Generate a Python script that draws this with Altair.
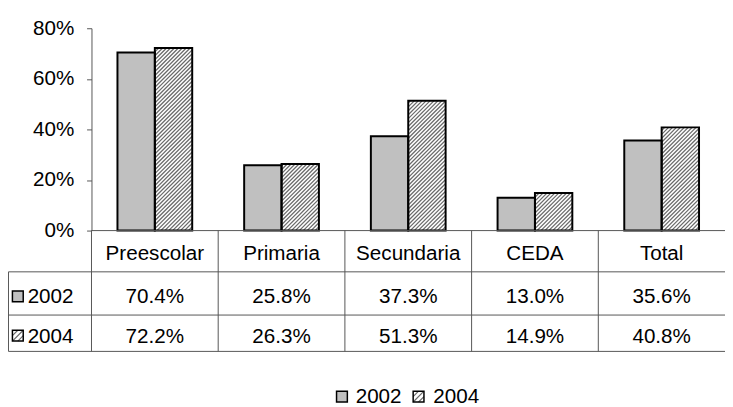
import altair as alt
import pandas as pd

# ---- data ----
categories = ["Preescolar", "Primaria", "Secundaria", "CEDA", "Total"]
years = ["2002", "2004"]
v2002 = [0.704, 0.258, 0.373, 0.130, 0.356]
v2004 = [0.722, 0.263, 0.513, 0.149, 0.408]
y_ticks = [0, 0.2, 0.4, 0.6, 0.8]

# ---- layout constants ----
W, H = 645, 206
PAD_L, PAD_T = 85, 17
TOTAL_H = 399
YMAX = 0.8
CW = W / len(categories)
YPX = H / YMAX
BWF = 0.295
BW = BWF * CW
STEP = 4.0
FONT = "Liberation Sans"
FS = 21
GRID = "#555555"
Y_HDR, Y_R1, Y_R2, Y_LEG = 230, 274, 314, 376
L_ROW1, L_ROW2, L_BOT = 248, 292, 329
X_LEFT = -84.5

rows = []
for i, c in enumerate(categories):
    rows.append(dict(cat=c, idx=i, year="2002", value=v2002[i]))
    rows.append(dict(cat=c, idx=i, year="2004", value=v2004[i]))
df = pd.DataFrame(rows)
cat_df = pd.DataFrame({"cat": categories, "idx": list(range(len(categories)))})
one = pd.DataFrame({"a": [0]})

xs = alt.Scale(domain=[0, len(categories)], nice=False, zero=False)
ys = alt.Scale(domain=[0, YMAX], nice=False)
yaxis = alt.Axis(
    values=y_ticks, format=".0%", grid=False, tickSize=5, labelPadding=13,
    labelFontSize=FS, labelFont=FONT, labelColor="black",
    domainColor=GRID, tickColor=GRID, title=None,
)

base = alt.Chart(df).transform_calculate(
    x0=f"datum.idx + 0.5 - (datum.year == '2002' ? {BWF} : 0)",
    x1=f"datum.idx + 0.5 + (datum.year == '2004' ? {BWF} : 0)",
    zero="0",
)

bars_fill = base.mark_rect(strokeWidth=0).encode(
    x=alt.X("x0:Q", scale=xs, axis=None),
    x2="x1:Q",
    y=alt.Y("value:Q", scale=ys, axis=yaxis, title=None),
    y2="zero:Q",
    color=alt.Color("year:N", scale=alt.Scale(domain=years, range=["#c0c0c0", "#ffffff"]), legend=None),
)

hatch = (
    alt.Chart(df)
    .transform_filter("datum.year == '2004'")
    .transform_calculate(k="sequence(0, 80)")
    .transform_flatten(["k"])
    .transform_calculate(h=f"datum.value * {YPX}", c=f"datum.k * {STEP} - {BW}")
    .transform_calculate(u0="max(0, -datum.c)", u1=f"min({BW}, datum.h - datum.c)")
    .transform_filter("datum.u1 > datum.u0")
    .transform_calculate(
        hx0=f"datum.idx + 0.5 + datum.u0 / {CW}",
        hx1=f"datum.idx + 0.5 + datum.u1 / {CW}",
        hy0=f"(datum.u0 + datum.c) / {YPX}",
        hy1=f"(datum.u1 + datum.c) / {YPX}",
    )
    .mark_rule(color="#6a6a6a", strokeWidth=1.3)
    .encode(
        x=alt.X("hx0:Q", scale=xs, axis=None), x2="hx1:Q",
        y=alt.Y("hy0:Q", scale=ys, axis=yaxis, title=None), y2="hy1:Q",
    )
)

bars_outline = base.mark_rect(fill="white", fillOpacity=0, stroke="black", strokeWidth=2).encode(
    x=alt.X("x0:Q", scale=xs, axis=None),
    x2="x1:Q",
    y=alt.Y("value:Q", scale=ys, axis=yaxis, title=None),
    y2="zero:Q",
)

# ---- table grid ----
def hline(y, x0):
    return alt.Chart(one).mark_rule(color=GRID, strokeWidth=1).encode(
        x=alt.value(x0), x2=alt.value(W), y=alt.value(y)
    )

baseline = hline(H, 0)
hl1 = hline(L_ROW1, X_LEFT)
hl2 = hline(L_ROW2, X_LEFT)
hl3 = hline(L_BOT, X_LEFT)

vlines = alt.Chart(pd.DataFrame({"b": list(range(len(categories)))})).mark_rule(
    color=GRID, strokeWidth=1
).encode(x=alt.X("b:Q", scale=xs, axis=None), y=alt.value(H), y2=alt.value(L_BOT))

vleft = alt.Chart(one).mark_rule(color=GRID, strokeWidth=1).encode(
    x=alt.value(X_LEFT), y=alt.value(L_ROW1), y2=alt.value(L_BOT)
)

# ---- table texts ----
txt = dict(fontSize=FS, font=FONT, color="black")
header = alt.Chart(cat_df).transform_calculate(xc="datum.idx + 0.5").mark_text(**txt).encode(
    x=alt.X("xc:Q", scale=xs, axis=None), y=alt.value(Y_HDR), text="cat:N"
)

def value_row(yr, ypos):
    return (
        alt.Chart(df)
        .transform_filter(f"datum.year == '{yr}'")
        .transform_calculate(xc="datum.idx + 0.5")
        .mark_text(**txt)
        .encode(x=alt.X("xc:Q", scale=xs, axis=None), y=alt.value(ypos),
                text=alt.Text("value:Q", format=".1%"))
    )

row1 = value_row("2002", Y_R1)
row2 = value_row("2004", Y_R2)

# ---- swatches ----
HATCH_PATH = "M-1,0L0,-1M-1,1L1,-1M0,1L1,0"

def swatch(yr, x, y):
    layers = []
    if yr == "2002":
        layers.append(alt.Chart(one).mark_point(shape="square", size=121, filled=True,
                                                fill="#c0c0c0", stroke="black", strokeWidth=1.5,
                                                opacity=1).encode(x=alt.value(x), y=alt.value(y)))
    else:
        layers.append(alt.Chart(one).mark_point(shape="square", size=121, filled=True,
                                                fill="white", strokeWidth=0, opacity=1)
                      .encode(x=alt.value(x), y=alt.value(y)))
        layers.append(alt.Chart(one).mark_point(shape=HATCH_PATH, size=121, filled=False,
                                                stroke="#6a6a6a", strokeWidth=1.2, opacity=1)
                      .encode(x=alt.value(x), y=alt.value(y)))
        layers.append(alt.Chart(one).mark_point(shape="square", size=121, filled=False,
                                                stroke="black", strokeWidth=1.5, opacity=1)
                      .encode(x=alt.value(x), y=alt.value(y)))
    return layers

def label(text, x, y):
    return alt.Chart(pd.DataFrame({"t": [text]})).mark_text(align="left", **txt).encode(
        x=alt.value(x), y=alt.value(y), text="t:N"
    )

sw = []
sw += swatch("2002", -75, Y_R1 - 1) + [label(years[0], -65, Y_R1)]
sw += swatch("2004", -75, Y_R2 - 1) + [label(years[1], -65, Y_R2)]
sw += swatch("2002", 255, Y_LEG - 1) + [label(years[0], 269, Y_LEG)]
sw += swatch("2004", 333, Y_LEG - 1) + [label(years[1], 348, Y_LEG)]

chart = alt.layer(
    bars_fill, hatch, bars_outline,
    baseline, hl1, hl2, hl3, vlines, vleft,
    header, row1, row2, *sw,
).properties(
    width=W, height=H,
    autosize=alt.AutoSizeParams(type="none"),
    padding={"left": PAD_L, "top": PAD_T, "right": 0, "bottom": TOTAL_H - PAD_T - H},
    background="white",
).configure_view(stroke=None)

chart.save("out.html", embed_options={"renderer": "svg", "actions": False})
